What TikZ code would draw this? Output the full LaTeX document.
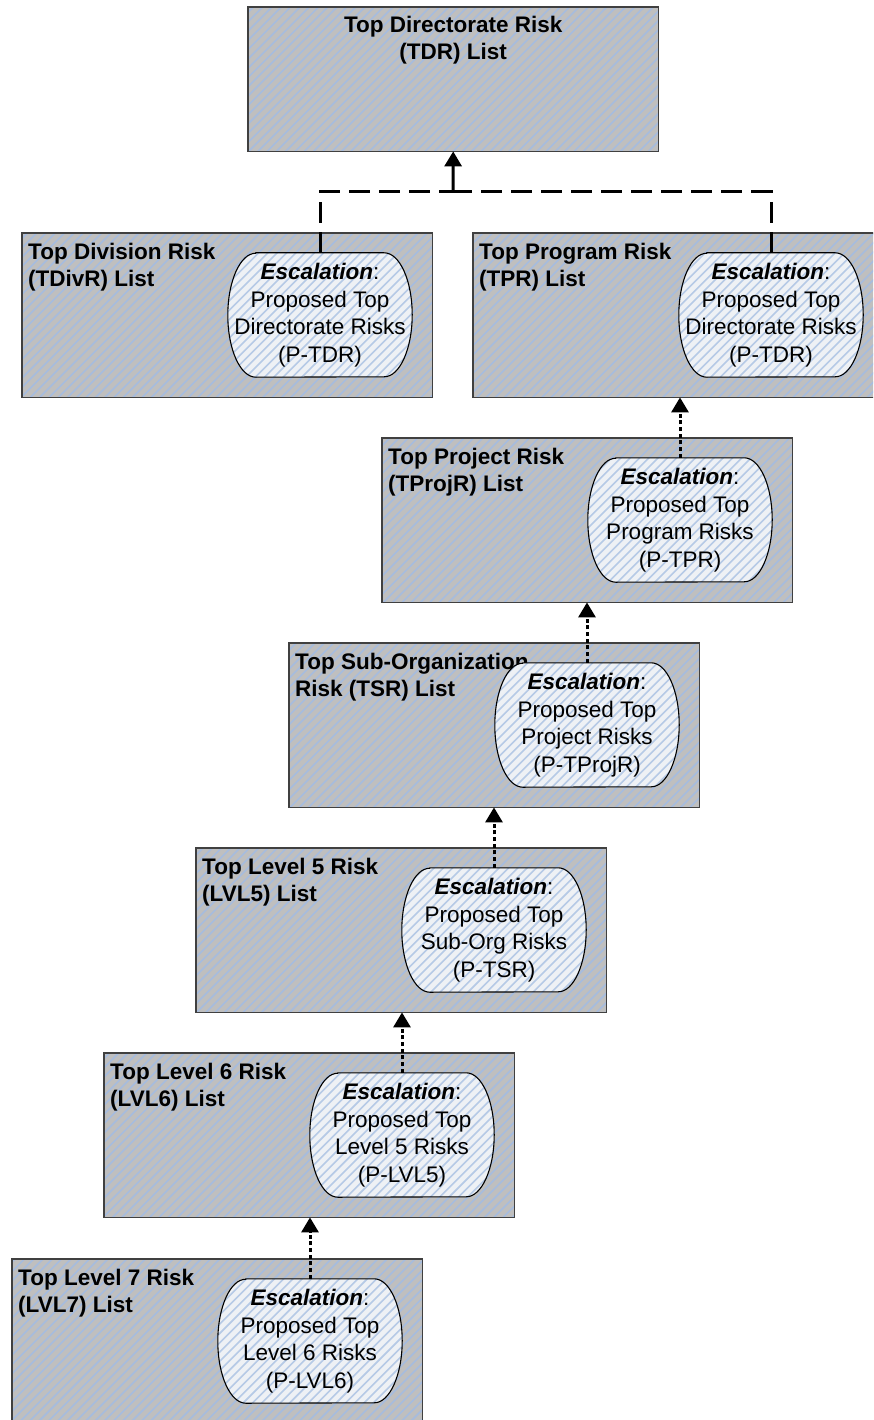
\documentclass[tikz,border=0pt]{standalone}
\usepackage{fontspec}
\setmainfont{Liberation Sans}
\usetikzlibrary{arrows.meta}

\definecolor{listgrey}{RGB}{191,191,191}
\definecolor{liststripe}{RGB}{166,188,222}
\definecolor{escfill}{RGB}{238,241,245}
\definecolor{escstripe}{RGB}{182,202,230}
\definecolor{listedge}{RGB}{64,64,64}

\tikzset{
  listbox/.style={rectangle, fill=listgrey, inner sep=0pt, minimum width=410pt, anchor=north west},
  boxedge/.style={draw=listedge, line width=1.6pt},
  escshape/.style={rectangle, inner sep=0pt, minimum width=184pt, minimum height=124pt},
  escedge/.style={draw=black, line width=1.1pt},
  hatch/.style={line width=1.6pt},
  titletext/.style={inner sep=0pt, font=\bfseries\fontsize{22.5pt}{27pt}\selectfont},
  esctext/.style={inner sep=0pt, align=center, font=\fontsize{22.5pt}{27.5pt}\selectfont},
  upflow/.style={line width=3pt, dash pattern=on 21pt off 9pt},
  uparrow/.style={line width=3pt, -{Triangle[width=17pt,length=15pt]}},
  escarrow/.style={line width=3pt, dash pattern=on 4pt off 2.7pt, -{Triangle[width=17pt,length=15pt]}},
}

% diagonal stripes across the whole sheet (clipped by the caller)
\newcommand\hatchlines[1]{%
  \foreach \k in {-1500,-1490.7,...,800} \draw[hatch,#1] (\k,1500) -- ++(1600,-1600);}

% a risk list box: name, left, top, height
\newcommand\riskbox[4]{%
  \node[listbox, minimum height=#4pt] (#1) at (#2,#3) {};
  \begin{scope}
    \clip (#1.south west) rectangle (#1.north east);
    \hatchlines{liststripe}
  \end{scope}
  \draw[boxedge] (#1.south west) rectangle (#1.north east);
}

% outline of an escalation bubble around node #1
\newcommand\escoutline[1]{([xshift=28pt]#1.north west) -- ([xshift=-28pt]#1.north east)
  arc[start angle=90,end angle=-90,x radius=28pt,y radius=62pt]
  -- ([xshift=28pt]#1.south west)
  arc[start angle=270,end angle=90,x radius=28pt,y radius=62pt] -- cycle}

% escalation bubble: name, centre x, top, text
\newcommand\escnode[4]{%
  \node[escshape] (#1) at (#2,#3+62) {};
  \fill[escfill] \escoutline{#1};
  \begin{scope}
    \clip \escoutline{#1};
    \hatchlines{escstripe}
  \end{scope}
  \draw[escedge] \escoutline{#1};
  \node[esctext] (#1-t) at (#1.center) {#4};
}

\begin{document}
\begin{tikzpicture}[x=1pt,y=-1pt]
  \useasboundingbox (0,0) rectangle (873,1420);
  \clip (0,0) rectangle (873,1420);

  % list boxes
  \riskbox{tdr}{248}{7}{144}
  \riskbox{tdiv}{22}{233}{164}
  \riskbox{tpr}{473}{233}{164}
  \riskbox{tproj}{382}{438}{164}
  \riskbox{tsr}{289}{643}{164}
  \riskbox{lvlfive}{196}{848}{164}
  \riskbox{lvlsix}{104}{1053}{164}
  \riskbox{lvlseven}{12}{1259}{164}

  % list titles
  \node[titletext, anchor=north, align=center] (tdr-t) at ([yshift=-9pt]tdr.north)
    {Top Directorate Risk\\(TDR) List};
  \node[titletext, anchor=north west, align=left] (tdiv-t) at ([xshift=6pt,yshift=-10pt]tdiv.north west)
    {Top Division Risk\\(TDivR) List};
  \node[titletext, anchor=north west, align=left] (tpr-t) at ([xshift=6pt,yshift=-10pt]tpr.north west)
    {Top Program Risk\\(TPR) List};
  \node[titletext, anchor=north west, align=left] (tproj-t) at ([xshift=6pt,yshift=-10pt]tproj.north west)
    {Top Project Risk\\(TProjR) List};
  \node[titletext, anchor=north west, align=left] (tsr-t) at ([xshift=6pt,yshift=-10pt]tsr.north west)
    {Top Sub-Organization\\Risk (TSR) List};
  \node[titletext, anchor=north west, align=left] (lvlfive-t) at ([xshift=6pt,yshift=-10pt]lvlfive.north west)
    {Top Level 5 Risk\\(LVL5) List};
  \node[titletext, anchor=north west, align=left] (lvlsix-t) at ([xshift=6pt,yshift=-10pt]lvlsix.north west)
    {Top Level 6 Risk\\(LVL6) List};
  \node[titletext, anchor=north west, align=left] (lvlseven-t) at ([xshift=6pt,yshift=-10pt]lvlseven.north west)
    {Top Level 7 Risk\\(LVL7) List};

  % escalation bubbles
  \escnode{divesc}{320}{253}{\textbf{\textit{Escalation}}:\\Proposed Top\\Directorate Risks\\(P-TDR)}
  \escnode{prgesc}{771}{253}{\textbf{\textit{Escalation}}:\\Proposed Top\\Directorate Risks\\(P-TDR)}
  \escnode{projesc}{680}{458}{\textbf{\textit{Escalation}}:\\Proposed Top\\Program Risks\\(P-TPR)}
  \escnode{tsresc}{587}{663}{\textbf{\textit{Escalation}}:\\Proposed Top\\Project Risks\\(P-TProjR)}
  \escnode{fiveesc}{494}{868}{\textbf{\textit{Escalation}}:\\Proposed Top\\Sub-Org Risks\\(P-TSR)}
  \escnode{sixesc}{402}{1073}{\textbf{\textit{Escalation}}:\\Proposed Top\\Level 5 Risks\\(P-LVL5)}
  \escnode{sevenesc}{310}{1279}{\textbf{\textit{Escalation}}:\\Proposed Top\\Level 6 Risks\\(P-LVL6)}

  % escalation to the directorate list
  \coordinate (jn) at (453,192);
  \draw[upflow] (divesc.north) |- (jn);
  \draw[upflow] (prgesc.north) |- (jn);
  \draw[uparrow] (jn) -- (tdr.south);

  % escalation up the chain
  \draw[escarrow] (projesc.north) -- (projesc.north |- tpr.south);
  \draw[escarrow] (tsresc.north) -- (tsresc.north |- tproj.south);
  \draw[escarrow] (fiveesc.north) -- (fiveesc.north |- tsr.south);
  \draw[escarrow] (sixesc.north) -- (sixesc.north |- lvlfive.south);
  \draw[escarrow] (sevenesc.north) -- (sevenesc.north |- lvlsix.south);
\end{tikzpicture}
\end{document}
